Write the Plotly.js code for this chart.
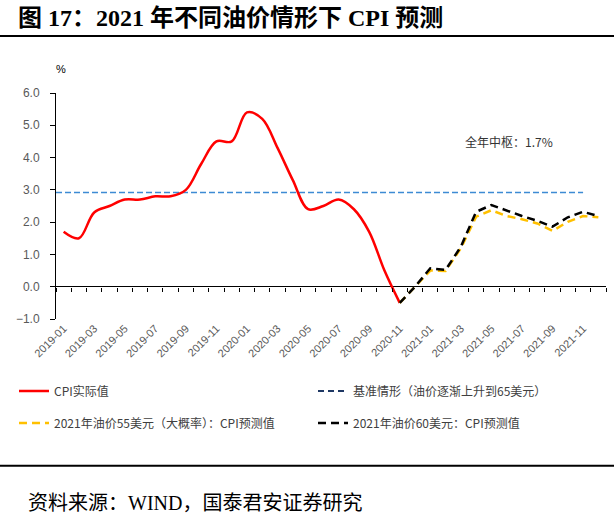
<!DOCTYPE html>
<html>
<head>
<meta charset="utf-8">
<script src="https://cdn.plot.ly/plotly-3.0.1.min.js"></script>
<style>
  html, body { margin: 0; padding: 0; background: #fff; }
  #chart { width: 614px; height: 517px; }
</style>
</head>
<body>
<div id="chart"></div>
<script>
// ---- Data ----
const MONTHS = [
  '2019-01','2019-02','2019-03','2019-04','2019-05','2019-06','2019-07','2019-08','2019-09','2019-10','2019-11','2019-12',
  '2020-01','2020-02','2020-03','2020-04','2020-05','2020-06','2020-07','2020-08','2020-09','2020-10','2020-11','2020-12',
  '2021-01','2021-02','2021-03','2021-04','2021-05','2021-06','2021-07','2021-08','2021-09','2021-10','2021-11','2021-12'
];
const TICK_LABELS = ['2019-01','2019-03','2019-05','2019-07','2019-09','2019-11','2020-01','2020-03','2020-05',
  '2020-07','2020-09','2020-11','2021-01','2021-03','2021-05','2021-07','2021-09','2021-11'];

const ACTUAL_MONTHS = MONTHS.slice(0, 23);            // 2019-01 .. 2020-11
const CPI_ACTUAL = [1.7, 1.5, 2.3, 2.5, 2.7, 2.7, 2.8, 2.8, 3.0, 3.8, 4.5, 4.5,
                    5.4, 5.2, 4.3, 3.3, 2.4, 2.5, 2.7, 2.4, 1.7, 0.5, -0.5];

const FORECAST_MONTHS = MONTHS.slice(22);             // 2020-11 .. 2021-12
const CPI_OIL55 = [-0.5, 0.0, 0.50, 0.49, 1.19, 2.17, 2.37, 2.19, 2.09, 1.96, 1.73, 2.01, 2.19, 2.15];
const CPI_OIL60 = [-0.5, 0.0, 0.57, 0.52, 1.24, 2.32, 2.53, 2.35, 2.19, 2.04, 1.86, 2.15, 2.32, 2.19];

const BASELINE = 2.92;                                // 基准情形 dashed level
const BASELINE_END = '2021-11';
const CENTER_NOTE = '全年中枢：1.7%';

const NAMES = ['CPI实际值', '基准情形（油价逐渐上升到65美元）',
               '2021年油价55美元（大概率）：CPI预测值', '2021年油价60美元：CPI预测值'];

// ---- Layout helpers (pixel -> paper) ----
const W = 614, H = 517;
const L = 56, R = 606, T = 92.7, B = 319;
const px2x = p => (p - L) / (R - L);
const px2y = p => (B - p) / (B - T);

const CJK = '"Noto Sans CJK SC", "Liberation Sans", sans-serif';
const SERIF = '"Liberation Serif", "Noto Sans CJK SC", serif';

const traces = [
  { x: ACTUAL_MONTHS, y: CPI_ACTUAL, name: NAMES[0], type: 'scatter', mode: 'lines',
    line: { color: '#FF0000', width: 2.5, shape: 'spline', smoothing: 1 }, legend: 'legend' },
  { x: [null], y: [null], name: NAMES[1], type: 'scatter', mode: 'lines',
    line: { color: '#1F3864', width: 2, dash: '6px,4px' }, legend: 'legend2' },
  { x: FORECAST_MONTHS, y: CPI_OIL55, name: NAMES[2], type: 'scatter', mode: 'lines',
    line: { color: '#FFC000', width: 2.5, dash: '8px,5px' }, legend: 'legend3' },
  { x: FORECAST_MONTHS, y: CPI_OIL60, name: NAMES[3], type: 'scatter', mode: 'lines',
    line: { color: '#000000', width: 2.5, dash: '8px,5px' }, legend: 'legend4' },
  { x: [null], y: [null], xaxis: 'x2', yaxis: 'y', showlegend: false, hoverinfo: 'skip', mode: 'lines' }
];

const legendBase = {
  orientation: 'h', xref: 'container', yref: 'container', xanchor: 'left', yanchor: 'middle',
  bgcolor: 'rgba(0,0,0,0)',
  font: { family: CJK, size: 12, color: '#404040' }, itemwidth: 30, traceorder: 'normal'
};
const COL1 = 14, COL2 = 313, ROW1 = 391, ROW2 = 423;

const layout = {
  width: W, height: H,
  margin: { l: L, r: W - R, t: T, b: H - B },
  paper_bgcolor: '#ffffff', plot_bgcolor: '#ffffff',
  showlegend: true,
  legend:  Object.assign({}, legendBase, { x: COL1 / W, y: 1 - ROW1 / H }),
  legend2: Object.assign({}, legendBase, { x: COL2 / W, y: 1 - ROW1 / H }),
  legend3: Object.assign({}, legendBase, { x: COL1 / W, y: 1 - ROW2 / H }),
  legend4: Object.assign({}, legendBase, { x: COL2 / W, y: 1 - ROW2 / H }),
  xaxis: {
    type: 'category', categoryorder: 'array', categoryarray: MONTHS,
    range: [-0.5, MONTHS.length - 0.5],
    tickmode: 'array', tickvals: TICK_LABELS, ticktext: TICK_LABELS,
    tickangle: -45, ticks: '', showline: false, showgrid: false, zeroline: false,
    tickfont: { family: '"Liberation Sans", Arial, sans-serif', size: 11, color: '#595959' },
    fixedrange: true
  },
  xaxis2: {
    overlaying: 'x', anchor: 'free', position: 1 / 7,
    range: [-0.5, MONTHS.length - 0.5], tick0: -0.5, dtick: 1,
    ticks: 'outside', ticklen: 4, tickcolor: '#000', tickwidth: 1,
    showticklabels: false, showline: false, showgrid: false, zeroline: false, fixedrange: true
  },
  yaxis: {
    range: [-1, 6], dtick: 1, tick0: 0, tickformat: '.1f',
    showline: true, linecolor: '#000', linewidth: 1,
    ticks: 'outside', ticklen: 5, tickcolor: '#000', ticklabelstandoff: 8,
    showgrid: false, zeroline: true, zerolinecolor: '#000', zerolinewidth: 1,
    tickfont: { family: '"Liberation Sans", Arial, sans-serif', size: 12, color: '#595959' },
    fixedrange: true
  },
  shapes: [
    { type: 'line', xref: 'x', yref: 'y', x0: -0.5, x1: MONTHS.indexOf(BASELINE_END), y0: BASELINE, y1: BASELINE,
      line: { color: '#3D8BD4', width: 1.5, dash: '6px,3px' }, layer: 'below' },
    { type: 'line', xref: 'paper', yref: 'paper', x0: px2x(0), x1: px2x(W), y0: px2y(35.7), y1: px2y(35.7),
      line: { color: '#000', width: 2 } },
    { type: 'line', xref: 'paper', yref: 'paper', x0: px2x(0), x1: px2x(W), y0: px2y(466), y1: px2y(466),
      line: { color: '#000', width: 2 } }
  ],
  annotations: [
    { text: '<b>图 17：2021 年不同油价情形下 CPI 预测</b>', xref: 'paper', yref: 'paper',
      x: px2x(16), y: px2y(18), xanchor: 'left', yanchor: 'middle', showarrow: false,
      font: { family: SERIF, size: 24, color: '#000' } },
    { text: '%', xref: 'paper', yref: 'paper', x: px2x(61), y: px2y(69), xanchor: 'center', yanchor: 'middle',
      showarrow: false, font: { family: '"Liberation Sans", Arial, sans-serif', size: 11, color: '#000' } },
    { text: CENTER_NOTE, xref: 'paper', yref: 'paper', x: px2x(463), y: px2y(141.7), xanchor: 'left',
      yanchor: 'middle', showarrow: false, font: { family: CJK, size: 12, color: '#333' } },
    { text: '资料来源：WIND，国泰君安证券研究', xref: 'paper', yref: 'paper', x: px2x(26), y: px2y(503),
      xanchor: 'left', yanchor: 'middle', showarrow: false, font: { family: SERIF, size: 20, color: '#000' } }
  ]
};

Plotly.newPlot('chart', traces, layout, { staticPlot: true, displayModeBar: false });
</script>
</body>
</html>
